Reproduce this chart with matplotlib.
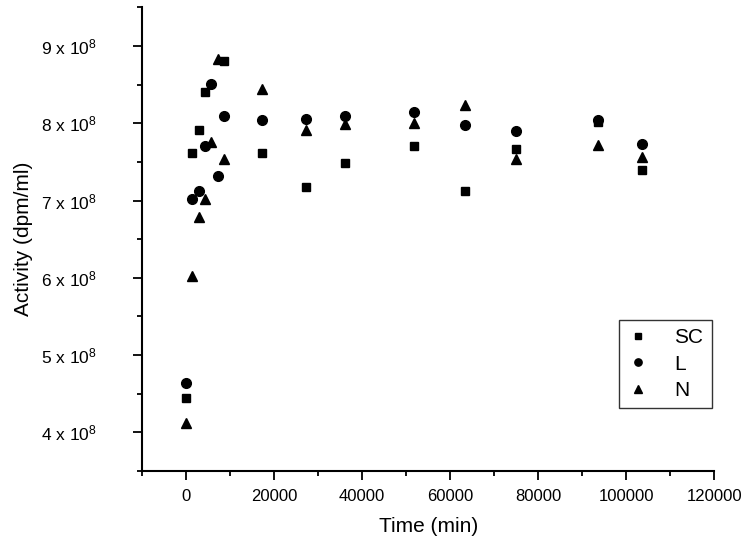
import matplotlib
matplotlib.use("Agg")
import matplotlib.pyplot as plt
from matplotlib.ticker import MultipleLocator, FuncFormatter

plt.rcParams['font.family'] = ['Liberation Sans', 'DejaVu Sans']
plt.rcParams['mathtext.fontset'] = 'custom'
plt.rcParams['mathtext.rm'] = 'Liberation Sans'
plt.rcParams['mathtext.it'] = 'Liberation Sans'

# Time points (min)
t_sc = [0, 1440, 2880, 4320, 8640, 17280, 27360, 36000, 51840, 63360, 74880, 93600, 103680]
sc = [4.45, 7.61, 7.91, 8.40, 8.81, 7.62, 7.17, 7.49, 7.70, 7.13, 7.67, 8.02, 7.40]

t_l = [0, 1440, 2880, 4320, 5760, 7200, 8640, 17280, 27360, 36000, 51840, 63360, 74880, 93600, 103680]
l = [4.64, 7.02, 7.12, 7.71, 8.51, 7.32, 8.09, 8.04, 8.06, 8.09, 8.15, 7.98, 7.90, 8.04, 7.73]

t_n = [0, 1440, 2880, 4320, 5760, 7200, 8640, 17280, 27360, 36000, 51840, 63360, 74880, 93600, 103680]
n = [4.12, 6.03, 6.79, 7.02, 7.76, 8.83, 7.54, 8.45, 7.91, 7.99, 8.01, 8.24, 7.54, 7.72, 7.57]

scale = 1e8

fig = plt.figure(figsize=(7.52, 5.48), dpi=100)
ax = fig.add_axes([142 / 752, 1 - 471 / 548, (714.3 - 142) / 752, (471 - 7.4) / 548])

ax.plot(t_sc, [v * scale for v in sc], linestyle='none', marker='s', ms=6, color='black', label='SC')
ax.plot(t_l, [v * scale for v in l], linestyle='none', marker='o', ms=7, color='black', label='L')
ax.plot(t_n, [v * scale for v in n], linestyle='none', marker='^', ms=7.5, color='black', label='N')

ax.set_xlim(-10000, 120000)
ax.set_ylim(3.5e8, 9.5e8)

ax.spines['top'].set_visible(False)
ax.spines['right'].set_visible(False)
for s in ['left', 'bottom']:
    ax.spines[s].set_linewidth(1.5)

ax.xaxis.set_major_locator(MultipleLocator(20000))
ax.xaxis.set_minor_locator(MultipleLocator(10000))
ax.yaxis.set_major_locator(MultipleLocator(1e8))
ax.yaxis.set_minor_locator(MultipleLocator(0.5e8))

ax.yaxis.set_major_formatter(FuncFormatter(lambda v, p: r"%d x 10$^{8}$" % round(v / 1e8)))
ax.xaxis.set_major_formatter(FuncFormatter(lambda v, p: "%d" % v))

ax.tick_params(axis='both', which='major', direction='out', length=6.5, width=1.3, labelsize=12)
ax.tick_params(axis='y', which='major', labelsize=12.5, pad=26)
ax.tick_params(axis='both', which='minor', direction='out', length=3.6, width=1.3)
ax.tick_params(axis='x', which='major', pad=6.5)

ax.set_xlabel('Time (min)', fontsize=15, labelpad=9.5)
ax.set_ylabel('Activity (dpm/ml)', fontsize=15, labelpad=6)

leg = ax.legend(loc='upper left', bbox_to_anchor=(619.3 / 752, 1 - 320 / 548),
                bbox_transform=fig.transFigure, borderaxespad=0, fontsize=15,
                frameon=True, fancybox=False, edgecolor='black', handlelength=1.0,
                handletextpad=1.25, labelspacing=0.35, borderpad=0.4, markerscale=0.75)
leg.get_frame().set_linewidth(1.0)

fig.savefig('out.png', dpi=100)
